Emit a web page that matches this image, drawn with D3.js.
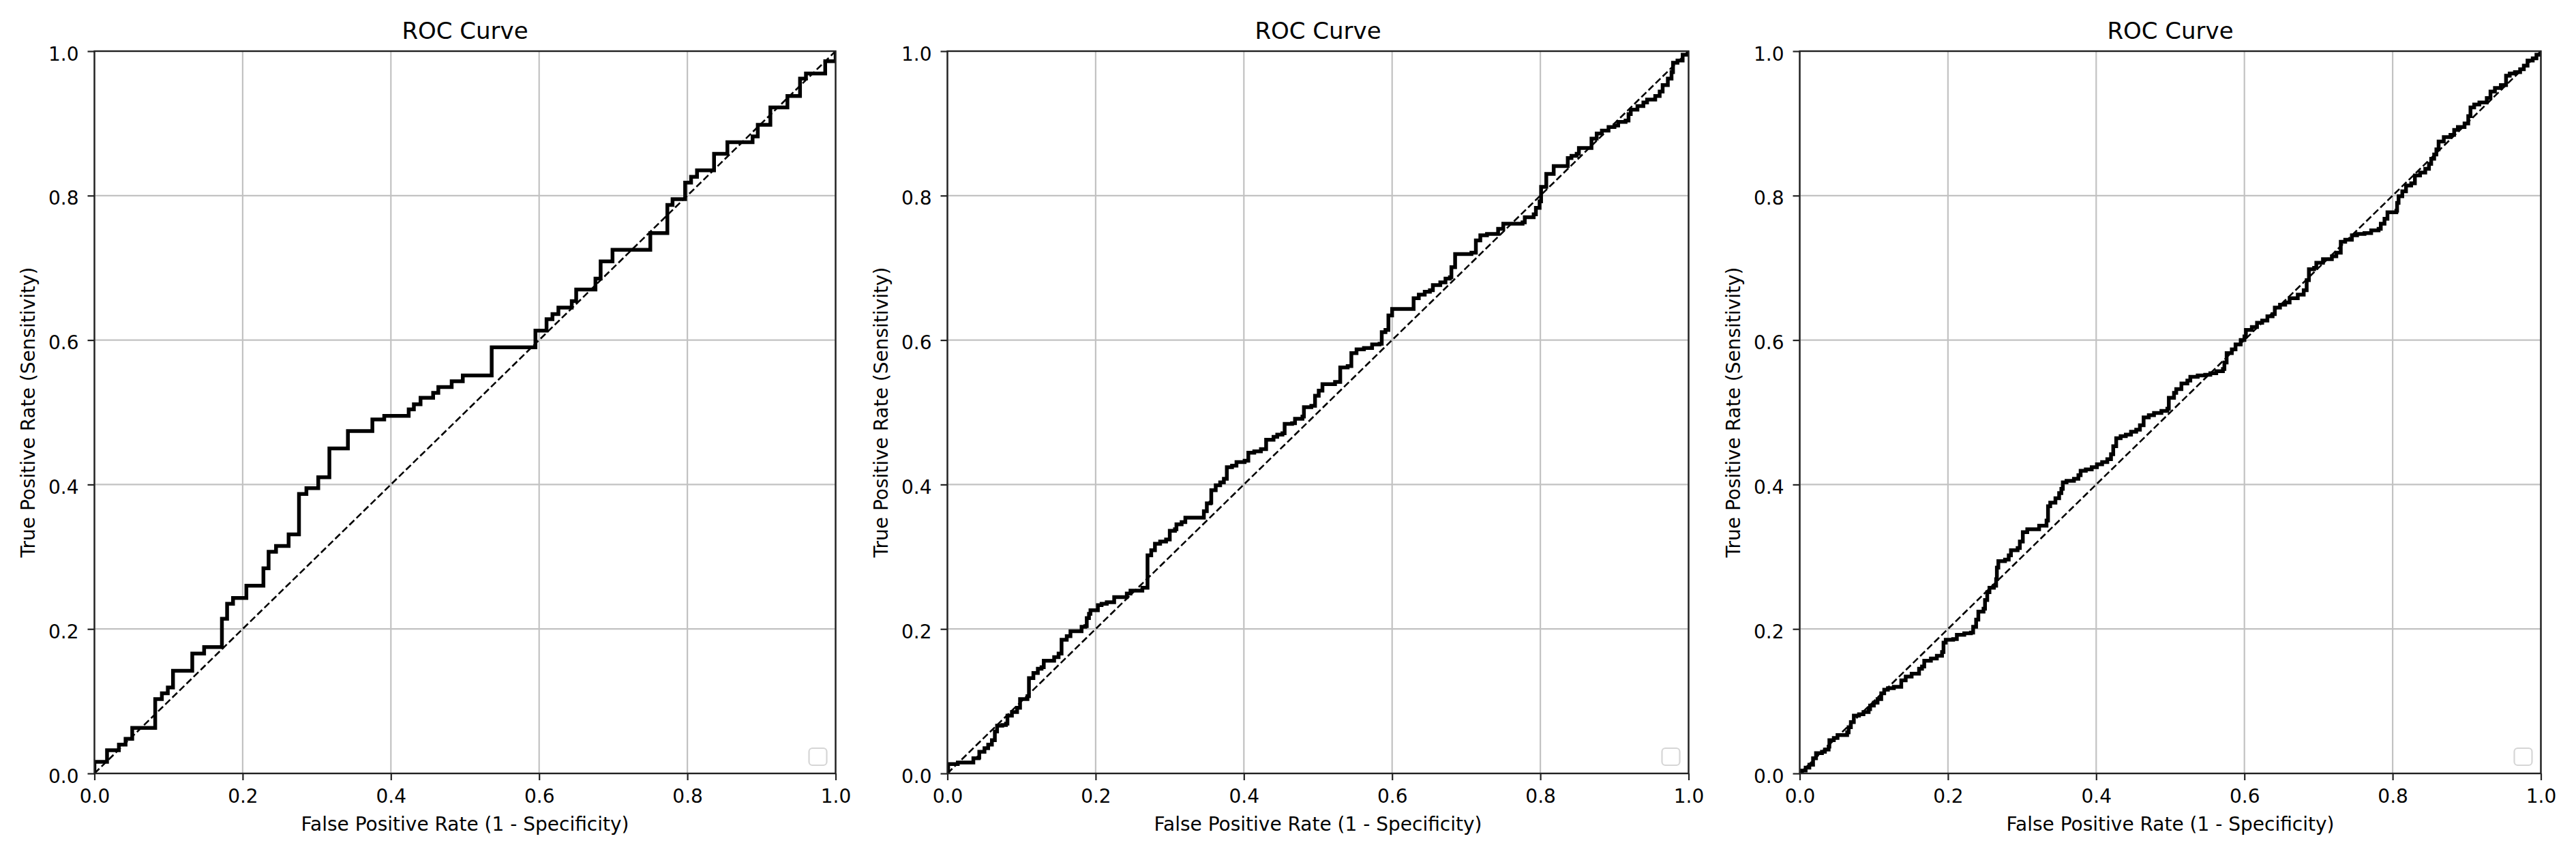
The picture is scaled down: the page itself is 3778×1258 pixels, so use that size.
<!DOCTYPE html>
<html>
<head>
<meta charset="utf-8">
<script src="https://cdn.jsdelivr.net/npm/d3@7"></script>
<style>
  body { margin: 0; background: white; }
  text { font-family: "DejaVu Sans", sans-serif; fill: black; }
</style>
</head>
<body>
<svg id="roc_panels"></svg>
<script>
let width = 3778
let height = 1258
let plotWidth = 1087
let plotHeight = 1059
let panelLeft = [138.5, 1389.5, 2639.5]
let plotTop = 75

let panelTitles = ["ROC Curve", "ROC Curve", "ROC Curve"]
let xLabel = "False Positive Rate (1 - Specificity)"
let yLabel = "True Positive Rate (Sensitivity)"
let tickValues = [0, 0.2, 0.4, 0.6, 0.8, 1.0]
let chanceLine = [[0, 0], [1, 1]]

// [fpr, tpr] points
let roc1 = [[0,0],[0,0.016],[0.017,0.032],[0.033,0.040],[0.042,0.048],[0.051,0.063],[0.082,0.103],[0.091,0.111],[0.099,0.119],[0.106,0.142],[0.132,0.166],[0.148,0.175],[0.172,0.214],[0.179,0.235],[0.187,0.243],[0.205,0.260],[0.228,0.284],[0.235,0.307],[0.245,0.315],[0.262,0.331],[0.276,0.387],[0.286,0.395],[0.302,0.410],[0.317,0.450],[0.342,0.474],[0.375,0.490],[0.391,0.495],[0.424,0.504],[0.431,0.511],[0.440,0.520],[0.457,0.527],[0.464,0.535],[0.482,0.543],[0.497,0.551],[0.536,0.590],[0.595,0.613],[0.610,0.629],[0.618,0.636],[0.626,0.645],[0.644,0.654],[0.650,0.670],[0.676,0.685],[0.683,0.709],[0.699,0.725],[0.750,0.748],[0.773,0.787],[0.780,0.795],[0.797,0.818],[0.805,0.826],[0.813,0.835],[0.836,0.858],[0.854,0.874],[0.888,0.882],[0.895,0.898],[0.912,0.922],[0.935,0.938],[0.952,0.962],[0.960,0.969],[0.986,0.986],[1,1]]

let roc2 = [[0,0],[0.001,0.013],[0.014,0.015],[0.031,0.015],[0.035,0.021],[0.042,0.022],[0.043,0.030],[0.050,0.035],[0.055,0.040],[0.060,0.046],[0.064,0.058],[0.067,0.066],[0.074,0.067],[0.079,0.069],[0.081,0.080],[0.087,0.085],[0.094,0.091],[0.098,0.103],[0.108,0.107],[0.110,0.132],[0.116,0.139],[0.122,0.145],[0.127,0.147],[0.130,0.156],[0.144,0.161],[0.150,0.166],[0.154,0.185],[0.161,0.190],[0.166,0.197],[0.181,0.203],[0.186,0.204],[0.188,0.215],[0.191,0.221],[0.193,0.226],[0.203,0.233],[0.208,0.235],[0.215,0.237],[0.225,0.244],[0.234,0.244],[0.242,0.249],[0.247,0.253],[0.263,0.257],[0.270,0.262],[0.270,0.302],[0.275,0.309],[0.280,0.318],[0.287,0.321],[0.295,0.324],[0.300,0.336],[0.307,0.338],[0.309,0.345],[0.316,0.348],[0.321,0.354],[0.334,0.354],[0.346,0.363],[0.350,0.374],[0.355,0.375],[0.356,0.392],[0.362,0.399],[0.368,0.403],[0.373,0.408],[0.377,0.424],[0.384,0.426],[0.390,0.431],[0.401,0.433],[0.406,0.444],[0.414,0.446],[0.423,0.449],[0.430,0.462],[0.440,0.466],[0.445,0.469],[0.452,0.471],[0.455,0.484],[0.465,0.485],[0.469,0.491],[0.479,0.494],[0.481,0.507],[0.491,0.509],[0.496,0.523],[0.501,0.530],[0.506,0.539],[0.523,0.542],[0.530,0.562],[0.540,0.564],[0.545,0.582],[0.552,0.587],[0.562,0.589],[0.573,0.594],[0.583,0.595],[0.586,0.611],[0.591,0.614],[0.595,0.634],[0.600,0.643],[0.626,0.643],[0.629,0.658],[0.636,0.663],[0.644,0.667],[0.651,0.669],[0.655,0.676],[0.665,0.680],[0.672,0.685],[0.678,0.687],[0.680,0.701],[0.685,0.719],[0.707,0.721],[0.713,0.738],[0.719,0.745],[0.728,0.747],[0.738,0.747],[0.743,0.754],[0.750,0.761],[0.764,0.761],[0.776,0.763],[0.779,0.770],[0.791,0.774],[0.794,0.783],[0.799,0.792],[0.801,0.812],[0.808,0.830],[0.818,0.841],[0.828,0.841],[0.837,0.852],[0.842,0.855],[0.849,0.858],[0.852,0.866],[0.864,0.866],[0.869,0.879],[0.876,0.886],[0.883,0.890],[0.892,0.895],[0.900,0.897],[0.905,0.902],[0.915,0.904],[0.919,0.913],[0.922,0.919],[0.931,0.924],[0.939,0.929],[0.944,0.933],[0.955,0.938],[0.961,0.944],[0.965,0.953],[0.972,0.962],[0.977,0.971],[0.979,0.984],[0.985,0.987],[0.992,0.995],[0.999,0.997],[1,1]]

let roc3 = [[0,0],[0.003,0.004],[0.008,0.008],[0.013,0.012],[0.018,0.021],[0.022,0.028],[0.030,0.030],[0.034,0.033],[0.039,0.037],[0.040,0.046],[0.046,0.049],[0.051,0.053],[0.056,0.053],[0.064,0.057],[0.066,0.064],[0.069,0.071],[0.073,0.080],[0.080,0.082],[0.086,0.085],[0.093,0.089],[0.095,0.094],[0.100,0.098],[0.105,0.103],[0.110,0.111],[0.114,0.116],[0.119,0.118],[0.127,0.120],[0.132,0.120],[0.137,0.129],[0.143,0.134],[0.151,0.138],[0.158,0.138],[0.161,0.145],[0.165,0.148],[0.168,0.156],[0.177,0.159],[0.185,0.163],[0.192,0.168],[0.194,0.181],[0.197,0.185],[0.207,0.186],[0.212,0.192],[0.222,0.194],[0.231,0.195],[0.234,0.203],[0.238,0.213],[0.241,0.224],[0.248,0.228],[0.250,0.240],[0.253,0.251],[0.256,0.257],[0.262,0.260],[0.265,0.269],[0.266,0.285],[0.268,0.294],[0.277,0.296],[0.282,0.302],[0.285,0.309],[0.294,0.312],[0.297,0.321],[0.301,0.334],[0.307,0.338],[0.318,0.338],[0.323,0.343],[0.333,0.350],[0.335,0.370],[0.338,0.375],[0.345,0.381],[0.350,0.388],[0.353,0.394],[0.355,0.403],[0.360,0.405],[0.370,0.408],[0.376,0.413],[0.379,0.419],[0.386,0.421],[0.394,0.424],[0.401,0.428],[0.408,0.431],[0.415,0.435],[0.420,0.442],[0.423,0.453],[0.427,0.464],[0.433,0.467],[0.440,0.469],[0.447,0.473],[0.454,0.476],[0.459,0.482],[0.464,0.493],[0.471,0.496],[0.478,0.499],[0.488,0.502],[0.496,0.505],[0.498,0.520],[0.505,0.527],[0.508,0.532],[0.515,0.540],[0.523,0.544],[0.527,0.549],[0.537,0.551],[0.547,0.552],[0.554,0.554],[0.562,0.557],[0.571,0.560],[0.573,0.569],[0.576,0.582],[0.583,0.587],[0.588,0.594],[0.595,0.600],[0.600,0.605],[0.602,0.614],[0.610,0.618],[0.617,0.624],[0.624,0.627],[0.631,0.633],[0.638,0.636],[0.641,0.645],[0.648,0.649],[0.655,0.652],[0.661,0.658],[0.672,0.663],[0.680,0.669],[0.684,0.683],[0.687,0.698],[0.694,0.700],[0.697,0.707],[0.706,0.712],[0.718,0.716],[0.724,0.721],[0.730,0.736],[0.736,0.739],[0.745,0.745],[0.752,0.747],[0.762,0.748],[0.771,0.752],[0.781,0.754],[0.784,0.761],[0.789,0.768],[0.793,0.777],[0.805,0.779],[0.806,0.790],[0.808,0.799],[0.813,0.806],[0.818,0.814],[0.825,0.817],[0.830,0.828],[0.837,0.832],[0.844,0.837],[0.849,0.844],[0.852,0.851],[0.856,0.857],[0.859,0.864],[0.862,0.875],[0.869,0.881],[0.878,0.884],[0.883,0.891],[0.888,0.895],[0.897,0.900],[0.902,0.910],[0.905,0.922],[0.910,0.926],[0.917,0.929],[0.927,0.935],[0.932,0.944],[0.938,0.949],[0.946,0.953],[0.953,0.966],[0.958,0.969],[0.965,0.971],[0.972,0.975],[0.977,0.980],[0.982,0.987],[0.989,0.990],[0.994,0.995],[1,1]]

let rocData = [roc1, roc2, roc3]

let svg = d3.select("#roc_panels")
    .attr("width", width)
    .attr("height", height)

let xScale = d3.scaleLinear().domain([0, 1]).range([0, plotWidth])
let yScale = d3.scaleLinear().domain([0, 1]).range([plotHeight, 0])

let rocLine = d3.line()
    .x(d => xScale(d[0]))
    .y(d => yScale(d[1]))
    .curve(d3.curveStepAfter)

let diagLine = d3.line()
    .x(d => xScale(d[0]))
    .y(d => yScale(d[1]))

rocData.forEach((roc, i) => {
    let g = svg.append("g")
        .attr("transform", "translate(" + panelLeft[i] + "," + plotTop + ")")

    g.append("clipPath").attr("id", "clip" + i)
        .append("rect")
        .attr("width", plotWidth)
        .attr("height", plotHeight)

    // grid
    g.append("g")
        .selectAll("line")
        .data(tickValues)
        .enter()
        .append("line")
        .attr("x1", d => xScale(d)).attr("x2", d => xScale(d))
        .attr("y1", 0).attr("y2", plotHeight)
        .attr("stroke", "#c2c2c2")
        .attr("stroke-width", 2.2)

    g.append("g")
        .selectAll("line")
        .data(tickValues)
        .enter()
        .append("line")
        .attr("y1", d => yScale(d)).attr("y2", d => yScale(d))
        .attr("x1", 0).attr("x2", plotWidth)
        .attr("stroke", "#c2c2c2")
        .attr("stroke-width", 2.2)

    let plot = g.append("g").attr("clip-path", "url(#clip" + i + ")")

    plot.append("path")
        .datum(chanceLine)
        .attr("d", diagLine)
        .attr("fill", "none")
        .attr("stroke", "black")
        .attr("stroke-width", 2.6)
        .attr("stroke-dasharray", "10,4.5")

    plot.append("path")
        .datum(roc)
        .attr("d", rocLine)
        .attr("fill", "none")
        .attr("stroke", "black")
        .attr("stroke-width", 5.5)
        .attr("stroke-linejoin", "miter")

    // empty legend box
    g.append("rect")
        .attr("x", plotWidth - 13 - 26)
        .attr("y", plotHeight - 12 - 25)
        .attr("width", 26)
        .attr("height", 25)
        .attr("rx", 5)
        .attr("fill", "white")
        .attr("fill-opacity", 0.8)
        .attr("stroke", "#d6d6d6")
        .attr("stroke-width", 2.2)

    let xAxis = g.append("g")
        .attr("transform", "translate(0," + plotHeight + ")")
        .call(d3.axisBottom(xScale).tickValues(tickValues).tickFormat(d3.format(".1f"))
            .tickSize(10).tickPadding(13))
    xAxis.selectAll("text").attr("font-size", 28).attr("fill", "black")

    let yAxis = g.append("g")
        .call(d3.axisLeft(yScale).tickValues(tickValues).tickFormat(d3.format(".1f"))
            .tickSize(10).tickPadding(13))
    yAxis.selectAll("text").attr("font-size", 28).attr("fill", "black").attr("dy", "0.47em")

    ;[xAxis, yAxis].forEach(a => {
        a.select(".domain").remove()
        a.selectAll(".tick line").attr("stroke", "#222").attr("stroke-width", 2.2)
        a.attr("font-family", null)
    })

    // spines
    g.append("rect")
        .attr("width", plotWidth)
        .attr("height", plotHeight)
        .attr("fill", "none")
        .attr("stroke", "#222")
        .attr("stroke-width", 2.4)

    g.append("text")
        .text(panelTitles[i])
        .attr("x", plotWidth / 2)
        .attr("y", 57 - plotTop)
        .attr("text-anchor", "middle")
        .attr("font-size", 34)

    g.append("text")
        .text(xLabel)
        .attr("x", plotWidth / 2)
        .attr("y", 1218 - plotTop)
        .attr("text-anchor", "middle")
        .attr("font-size", 28)

    g.append("text")
        .text(yLabel)
        .attr("text-anchor", "middle")
        .attr("font-size", 28)
        .attr("transform", "translate(" + (51 - 138.5) + "," + plotHeight / 2 + "), rotate(-90)")
})
</script>
</body>
</html>
